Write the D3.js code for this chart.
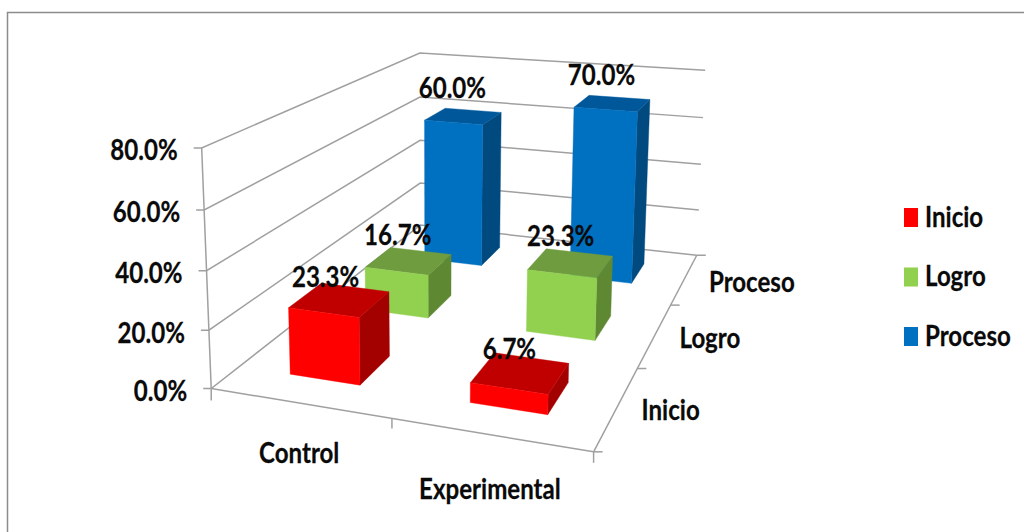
<!DOCTYPE html>
<html><head><meta charset="utf-8">
<script src="https://cdn.jsdelivr.net/npm/d3@7"></script>
<style>
html,body{margin:0;padding:0;background:#fff;overflow:hidden}
text{font-family:Lato,"Open Sans",sans-serif;font-weight:700;fill:#0a0a0a;stroke:#0a0a0a;stroke-width:.25}
</style></head><body><svg id="c" width="1024" height="532"></svg>
<script>
const categories = ["Control", "Experimental"];
const seriesNames = ["Inicio", "Logro", "Proceso"];
const inicioValues = [0.233, 0.067];
const logroValues = [0.167, 0.233];
const procesoValues = [0.600, 0.700];
const valueTicks = [0, 0.2, 0.4, 0.6, 0.8];
const seriesColors = ["#ff0000", "#92d050", "#0070c0"];
const topColors = ["#c00000", "#6f9c3e", "#00589a"];
const sideColors = ["#a30000", "#5f8832", "#004a80"];

const W = 1024, H = 532;
const svg = d3.select("#c");
const fmt = d3.format(".1%");

// unit-cube scales
const xBand = d3.scaleBand().domain(categories).range([0, 1]).paddingInner(0.6).paddingOuter(0.3);
const zBand = d3.scaleBand().domain(seriesNames).range([0, 1]).paddingInner(0.6).paddingOuter(0.3);
const yScale = d3.scaleLinear().domain([0, 0.8]).range([0, 1]);

// camera calibration: unit-cube location -> screen location of the chart box
const calib = [
 [0,0,0,211,388],[1,0,0,593.3,451.7],[.5,0,0,392.7,420],
 [1,1,0,696.7,255],[1,2/3,0,670.7,305],[1,1/3,0,637,368],
 [0,0,1,201.7,148.3],[0,0,.75,204,210],[0,0,.5,206.5,270],[0,0,.25,209,330],
 [0,1,1,420,52.7],[0,1,.75,420,98],[0,1,.5,420,140],[0,1,.25,420,183],
 [1,1,1,705,70],[1,1,.75,703,117.5],[1,1,.5,701,164.5],[1,1,.25,699,210.5]
];
function solveCamera(pts){
  const n = 11, A = d3.range(n).map(()=>new Array(n+1).fill(0));
  const add = (r, b) => { for(let i=0;i<n;i++){ for(let j=0;j<n;j++) A[i][j]+=r[i]*r[j]; A[i][n]+=r[i]*b; } };
  pts.forEach(([u,v,w,x,y])=>{
    add([u,v,w,1,0,0,0,0,-x*u,-x*v,-x*w], x);
    add([0,0,0,0,u,v,w,1,-y*u,-y*v,-y*w], y);
  });
  for(let i=0;i<n;i++){
    let m=i; for(let k=i+1;k<n;k++) if(Math.abs(A[k][i])>Math.abs(A[m][i])) m=k;
    [A[i],A[m]]=[A[m],A[i]];
    for(let k=0;k<n;k++){ if(k===i) continue; const f=A[k][i]/A[i][i]; for(let j=i;j<=n;j++) A[k][j]-=f*A[i][j]; }
  }
  return A.map((r,i)=>r[n]/r[i]);
}
const P = solveCamera(calib);
function proj(u,v,w){
  const d = P[8]*u+P[9]*v+P[10]*w+1;
  return [(P[0]*u+P[1]*v+P[2]*w+P[3])/d, (P[4]*u+P[5]*v+P[6]*w+P[7])/d];
}
const line = d3.line();
const GRID = "#a0a0a0";

// outer frame
svg.append("rect").attr("x",7.5).attr("y",12.5).attr("width",W+20).attr("height",H+20)
   .attr("fill","#fff").attr("stroke","#8c8c8c").attr("stroke-width",1.5);

const g = svg.append("g");
function seg(a,b,col=GRID,sw=1.5){ g.append("path").attr("d",line([a,b])).attr("stroke",col).attr("stroke-width",sw).attr("fill","none"); }

// gridlines on walls
valueTicks.forEach(t=>{
  const w = yScale(t);
  const a = proj(0,0,w), b = proj(0,1,w), c = proj(1,1,w);
  g.append("path").attr("d",line([[a[0]-8,a[1]],a,b,c])).attr("fill","none").attr("stroke",GRID).attr("stroke-width",1.5);
});
// axes
seg(proj(0,0,0),proj(0,0,1));
seg(proj(0,0,0),proj(1,0,0));
seg(proj(1,0,0),proj(1,1,0));
// ticks
const t0 = proj(0,0,0); seg(t0,[t0[0],t0[1]+12]);
const tm = proj(.5,0,0); seg(tm,[tm[0],tm[1]+10]);
const t1 = proj(1,0,0); seg(t1,[t1[0],t1[1]+11]);
[0,1/3,2/3,1].forEach(v=>{ const p=proj(1,v,0); seg(p,[p[0]+9,p[1]]); });

// bars, back to front
const seriesValues = [inicioValues, logroValues, procesoValues];
const bars = [];
seriesNames.forEach((s,si)=>categories.forEach((c,ci)=>bars.push({s,si,c,ci,v:seriesValues[si][ci]})));
bars.sort((a,b)=>b.si-a.si || a.ci-b.ci);
function poly(pts,fill){ g.append("polygon").attr("points",pts.map(p=>p.join(",")).join(" ")).attr("fill",fill).attr("stroke",fill).attr("stroke-width",.4); }
bars.forEach(b=>{
  const u0=xBand(b.c),u1=u0+xBand.bandwidth(),v0=zBand(b.s),v1=v0+zBand.bandwidth(),w=yScale(b.v);
  poly([proj(u1,v0,0),proj(u1,v1,0),proj(u1,v1,w),proj(u1,v0,w)], sideColors[b.si]);
  poly([proj(u0,v0,w),proj(u1,v0,w),proj(u1,v1,w),proj(u0,v1,w)], topColors[b.si]);
  poly([proj(u0,v0,0),proj(u1,v0,0),proj(u1,v0,w),proj(u0,v0,w)], seriesColors[b.si]);
});

// text helper: squeezed text as in the reference
function label(x,y,str,anchor="middle",size=28,sx=0.86){
  return svg.append("text").attr("transform",`translate(${x},${y}) scale(${sx},1)`)
    .attr("text-anchor",anchor).attr("font-size",size).text(str);
}
// value-axis labels
valueTicks.forEach(t=>{ const p=proj(0,0,yScale(t)); label(p[0]-24,p[1]+12.5,fmt(t),"end"); });
// category labels, anchored under each band
categories.forEach((c,i)=>{
  const p=proj(xBand(c)+xBand.bandwidth()/2,0,0);
  label(p[0], p[1]+60+4*i, c);
});
// depth labels
seriesNames.forEach(s=>{
  const p=proj(1,zBand(s)+zBand.bandwidth()/2,0);
  label(p[0]+24.5,p[1]+13,s,"start");
});
// data labels, each placed over its bar as in the reference
const labelShift = {Inicio:[[-14,-13],[-11,-14]], Logro:[[-11,-16],[-10,-17]], Proceso:[[-11,-18],[-11,-18]]};
bars.forEach(b=>{
  const p=proj(xBand(b.c)+xBand.bandwidth()/2, zBand(b.s)+zBand.bandwidth()/2, yScale(b.v));
  const d=labelShift[b.s][b.ci];
  label(p[0]+d[0],p[1]+d[1],fmt(b.v));
});
// legend
const legendY = d3.scalePoint().domain(seriesNames).range([208,327]);
seriesNames.forEach((s,i)=>{
  svg.append("rect").attr("x",904).attr("y",legendY(s)).attr("width",14).attr("height",19).attr("fill",seriesColors[i]);
  label(925,legendY(s)+18.5,s,"start");
});
</script></body></html>
